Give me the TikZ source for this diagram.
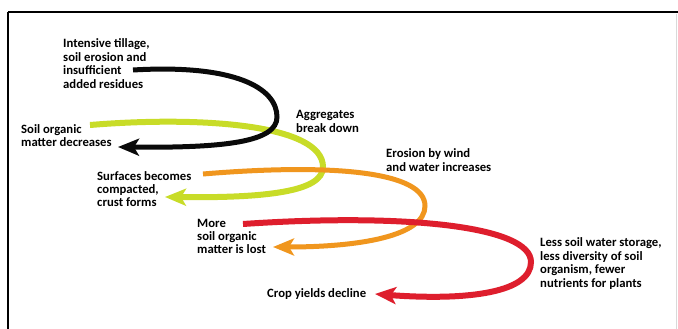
\documentclass[tikz,border=0pt]{standalone}
\usepackage{fontspec}
\setmainfont{Carlito}
\usetikzlibrary{arrows.meta}
\definecolor{cblack}{RGB}{10,10,10}
\definecolor{cyellow}{RGB}{200,220,40}
\definecolor{corange}{RGB}{240,150,30}
\definecolor{cred}{RGB}{222,30,45}
\tikzset{
  lbl/.style={anchor=west,align=left,inner sep=0pt,font=\bfseries\fontsize{12.7}{13.4}\selectfont},
  loop/.style={line width=#1,line cap=butt,-{Stealth[length=21pt,width=17pt,inset=5pt]}},
}
\begin{document}
\begin{tikzpicture}[x=1pt,y=-1pt]
\useasboundingbox (0,0) rectangle (678,329);
\fill[white] (0,0) rectangle (678,329);
% frame
\draw[line width=2.2pt] (8,12) -- (678,12);
\draw[line width=2.2pt] (8,12) -- (8,329);
\draw[black!15,line width=0.8pt] (676,14) -- (676,329);
% labels
\node[lbl] (tillage) at (63,63.5) {Intensive tillage,\\soil erosion and\\insufficient\\added residues};
\node[lbl] (som) at (21,135.5) {Soil organic\\matter decreases};
\node[lbl] (aggr) at (296,121.5) {Aggregates\\break down};
\node[lbl] (eros) at (386,160) {Erosion by wind\\and water increases};
\node[lbl] (surf) at (97,189) {Surfaces becomes\\compacted,\\crust forms};
\node[lbl] (more) at (197,236.5) {More\\soil organic\\matter is lost};
\node[lbl] (crop) at (267,294) {Crop yields decline};
\node[lbl] (less) at (540,263.5) {Less soil water storage,\\less diversity of soil\\organism, fewer\\nutrients for plants};
% connector end points
\coordinate (b0) at (133,70);  \coordinate (b1) at (118,147);
\coordinate (y0) at (90,125);  \coordinate (y1) at (165,197);
\coordinate (o0) at (203,174); \coordinate (o1) at (273,247);
\coordinate (r0) at (243,224); \coordinate (r1) at (375,294);
% loops
\draw[cyellow,loop=6pt] (y0) .. controls (200,116) and (323,124) .. (323,167) .. controls (323,192) and (265,198) .. (y1);
\draw[cblack,loop=5pt] (b0) .. controls (235,64) and (277,88) .. (277,117) .. controls (277,142) and (225,148) .. (b1);
\draw[corange,loop=5pt] (o0) .. controls (335,163) and (425,172) .. (425,206) .. controls (425,236) and (360,247) .. (o1);
\draw[cred,loop=6pt] (r0) .. controls (405,213) and (531,226) .. (531,262) .. controls (531,292) and (470,301) .. (r1);
\end{tikzpicture}
\end{document}
